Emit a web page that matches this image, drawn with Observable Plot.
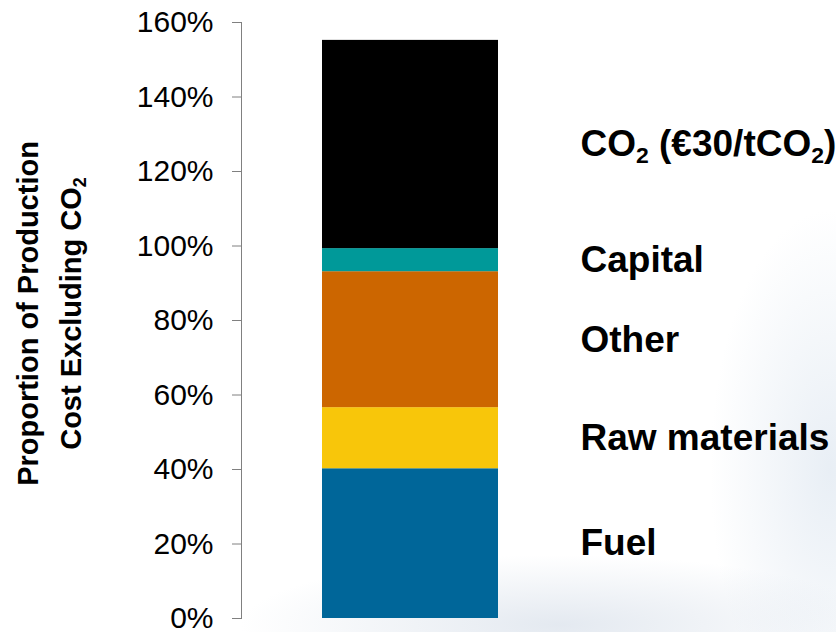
<!DOCTYPE html>
<html><head><meta charset="utf-8">
<script src="https://cdn.jsdelivr.net/npm/d3@7"></script>
<script src="https://cdn.jsdelivr.net/npm/@observablehq/plot@0.6"></script>
<style>
html,body{margin:0;padding:0;background:#fff;}
#chart{width:836px;height:632px;position:relative;
  background:
    radial-gradient(ellipse 320px 70px at 560px 625px, rgba(205,215,228,0.55), rgba(255,255,255,0) 100%),
    radial-gradient(ellipse 120px 260px at 830px 470px, rgba(210,222,235,0.5), rgba(255,255,255,0) 100%),
    #fff;}
</style>
</head><body><div id="chart"></div>
<script>
const categories = ["Fuel", "Raw materials", "Other", "Capital", "CO2"];
const labels = ["Fuel", "Raw materials", "Other", "Capital", "CO₂ (€30/tCO₂)"];
const values = [40.2, 16.4, 36.5, 6.2, 55.9];
const colors = ["#006699", "#F8C60A", "#CC6600", "#009999", "#000000"];
const yTicks = [0, 20, 40, 60, 80, 100, 120, 140, 160];
const yTitle = "Proportion of Production\nCost Excluding CO₂";

const data = categories.map((c, i) => ({bar: "all", category: c, label: labels[i], value: values[i]}));
const FONT = '"Liberation Sans", Arial, Helvetica, sans-serif';

const chart = Plot.plot({
  width: 836, height: 632,
  marginTop: 22, marginBottom: 14, marginLeft: 241, marginRight: 0,
  style: {fontFamily: FONT, background: "transparent", color: "#000", overflow: "visible"},
  x: {domain: ["all"], range: [322, 498], padding: 0, axis: null},
  y: {domain: [0, 160]},
  color: {domain: categories, range: colors},
  marks: [
    Plot.frame({anchor: "left", stroke: "#808080"}),
    Plot.axisY({ticks: yTicks, tickSize: 9, tickPadding: 19, tickFormat: d => d + "%", fontSize: 30, stroke: "#808080", fill: "#000", label: null}),
    Plot.barY(data, {x: "bar", y: "value", fill: "category"}),
    Plot.text(data, Plot.stackY({x: "bar", y: "value", text: "label", textAnchor: "start", dx: 170, fontSize: 37, fontWeight: "bold", fill: "#000"})),
    Plot.text([yTitle], {frameAnchor: "left", text: d => d, rotate: -90, dx: -196, dy: -7, fontSize: 29, fontWeight: "bold", lineHeight: 1.5, textAnchor: "middle", fill: "#000"})
  ]
});
document.getElementById("chart").appendChild(chart);

// render "₂" as real subscripts
(function subscripts(root) {
  const ns = "http://www.w3.org/2000/svg";
  const walker = document.createTreeWalker(root, NodeFilter.SHOW_TEXT);
  const nodes = [];
  while (walker.nextNode()) if (walker.currentNode.nodeValue.includes("₂")) nodes.push(walker.currentNode);
  for (const node of nodes) {
    const parent = node.parentNode;
    const fs = parseFloat(getComputedStyle(parent).fontSize) || 16;
    const shift = fs * 0.17;
    const parts = node.nodeValue.split("₂");
    const frag = document.createDocumentFragment();
    parts.forEach((p, i) => {
      if (i > 0) {
        const s = document.createElementNS(ns, "tspan");
        s.setAttribute("font-size", (fs * 0.62) + "px");
        s.setAttribute("dy", shift);
        s.textContent = "2";
        frag.appendChild(s);
        const r = document.createElementNS(ns, "tspan");
        r.setAttribute("dy", -shift);
        r.textContent = p;
        frag.appendChild(r);
      } else if (p) {
        frag.appendChild(document.createTextNode(p));
      }
    });
    parent.replaceChild(frag, node);
  }
})(chart);
</script>
</body></html>
